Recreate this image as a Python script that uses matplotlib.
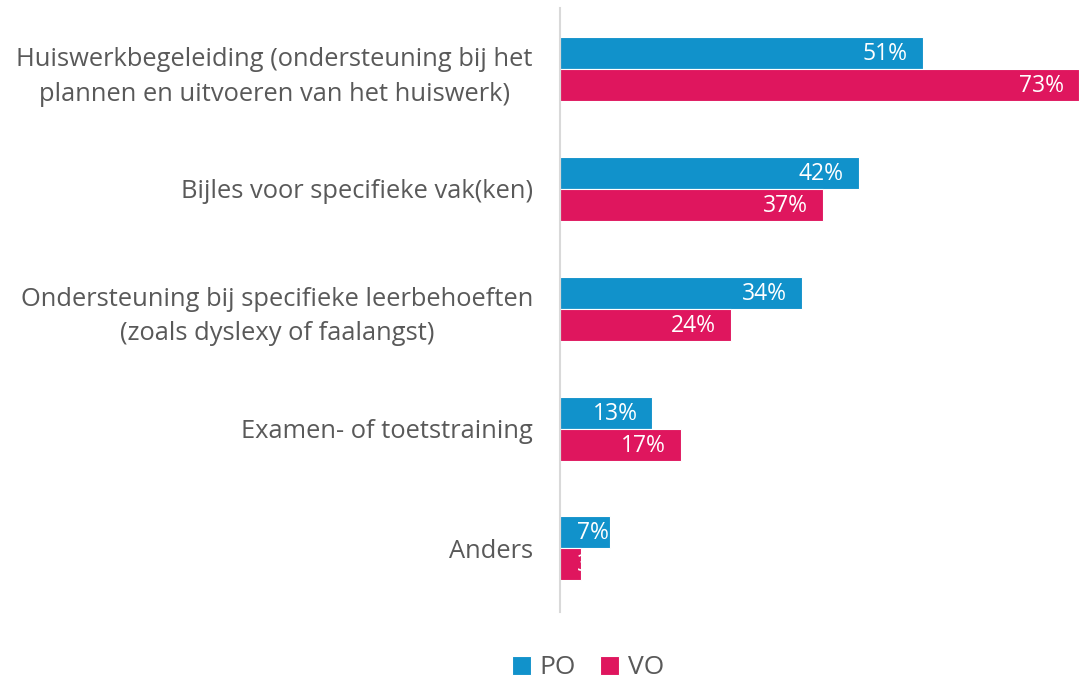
import matplotlib

matplotlib.use("Agg")
import matplotlib.pyplot as plt
import numpy as np

categories = [
    "Huiswerkbegeleiding (ondersteuning bij het\nplannen en uitvoeren van het huiswerk)",
    "Bijles voor specifieke vak(ken)",
    "Ondersteuning bij specifieke leerbehoeften\n(zoals dyslexy of faalangst)",
    "Examen- of toetstraining",
    "Anders",
]
po = [51, 42, 34, 13, 7]
vo = [73, 37, 24, 17, 3]
series = [("PO", po, "#1192CB"), ("VO", vo, "#DF165E")]

plt.rcParams["font.family"] = ["Open Sans", "DejaVu Sans"]
TEXT = "#595959"

fig = plt.figure(figsize=(10.79, 6.81), dpi=100)
ax = fig.add_axes([560 / 1079, 1 - 612 / 681, 519 / 1079, 604 / 681])

y = np.arange(len(categories))
h = 0.267
for i, (name, vals, col) in enumerate(series):
    off = (i - 0.5) * h
    bars = ax.barh(y + off, vals, height=h, color=col, edgecolor="white",
                   linewidth=0.8, label=name)
    for b, v in zip(bars, vals):
        # Excel "inside end" labels; small bars get pushed to the start
        if v < 10:
            t = ax.annotate(f"{v}%", (0, b.get_y() + h / 2), xytext=(17, -1),
                            textcoords="offset pixels", ha="left", va="center",
                            color="white", fontsize=16.5)
        else:
            t = ax.annotate(f"{v}%", (v, b.get_y() + h / 2), xytext=(-15, -1),
                            textcoords="offset pixels", ha="right", va="center",
                            color="white", fontsize=16.5)
        t.set_clip_path(b)

ax.set_xlim(0, 73)
ax.set_ylim(len(categories) - 0.47, -0.51)
ax.set_yticks(y)
ax.set_yticklabels(categories, fontsize=18.4, color=TEXT, ha="right",
                   multialignment="center", linespacing=1.5)
ax.tick_params(axis="y", length=0, pad=19.5)
ax.set_xticks([])
for s in ("top", "right", "bottom"):
    ax.spines[s].set_visible(False)
ax.spines["left"].set_color("#D9D9D9")
ax.spines["left"].set_linewidth(1.5)

leg = fig.legend(loc="center", bbox_to_anchor=(588 / 1079, 1 - 668 / 681),
                 ncol=2, frameon=False, fontsize=19, handlelength=0.72,
                 handleheight=0.72, handletextpad=0.35, columnspacing=0.9)
for t in leg.get_texts():
    t.set_color(TEXT)

fig.savefig("out.png", dpi=100)
